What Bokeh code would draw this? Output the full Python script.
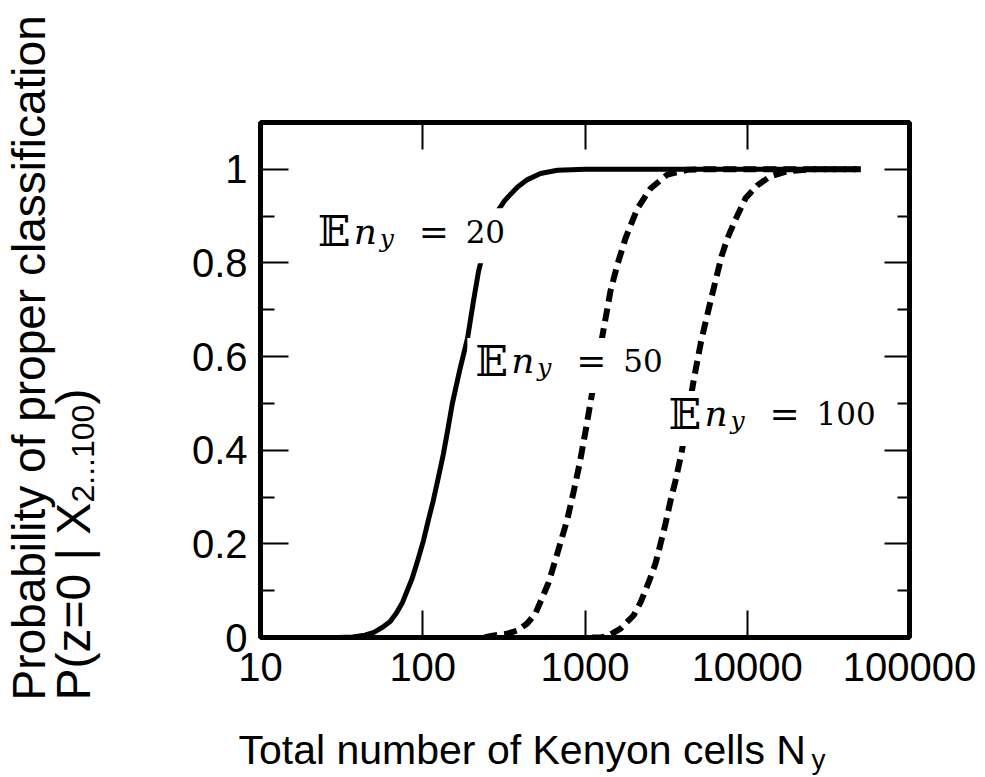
import math

from bokeh.plotting import figure
from bokeh.layouts import row, column
from bokeh.models import Label, Range1d, LogAxis, LinearAxis, FixedTicker
from bokeh.embed import file_html
from bokeh.resources import INLINE

# ---- axis ticks -------------------------------------------------------------
x_ticks = [10, 100, 1000, 10000, 100000]
x_tick_labels = ["10", "100", "1000", "10000", "100000"]
y_ticks = [0, 0.2, 0.4, 0.6, 0.8, 1]
y_tick_labels = ["0", "0.2", "0.4", "0.6", "0.8", "1"]
y_minor_ticks = [0.1, 0.3, 0.5, 0.7, 0.9]

# ---- probability of proper classification vs. number of Kenyon cells --------
# E n_y = 20
n20_cells = [30, 37, 44, 50, 56, 63, 69, 75, 80, 86, 93, 101, 108, 116, 125, 134,
             143, 152, 170, 189, 205, 221, 250, 289, 318, 348, 384, 442, 532,
             676, 1000, 50000]
n20_prob = [0.0, 0.001, 0.005, 0.011, 0.021, 0.034, 0.053, 0.075, 0.099, 0.126,
            0.164, 0.207, 0.249, 0.292, 0.343, 0.392, 0.446, 0.499, 0.575, 0.640,
            0.717, 0.783, 0.856, 0.910, 0.932, 0.947, 0.962, 0.978, 0.991, 0.998,
            1.0, 1.0]

# E n_y = 50
n50_cells = [240, 269, 330, 384, 440, 495, 596, 687, 780, 849, 925, 1007, 1097,
             1200, 1300, 1436, 1585, 1778, 2108, 2535, 3223, 4285, 5156, 50000]
n50_prob = [0.0, 0.004, 0.008, 0.015, 0.030, 0.051, 0.117, 0.188, 0.254, 0.310,
            0.370, 0.440, 0.515, 0.590, 0.657, 0.740, 0.797, 0.853, 0.917, 0.959,
            0.989, 0.999, 1.0, 1.0]

# E n_y = 100
n100_cells = [1100, 1247, 1377, 1656, 1992, 2200, 2463, 2720, 2920, 3134, 3365,
              3611, 3934, 4300, 4667, 5156, 5375, 5770, 6285, 6939, 7557, 8466,
              9753, 11560, 13900, 17700, 24500, 50000]
n100_prob = [0.0, 0.0, 0.003, 0.019, 0.047, 0.075, 0.117, 0.158, 0.200, 0.243,
             0.292, 0.335, 0.394, 0.474, 0.548, 0.627, 0.655, 0.700, 0.753, 0.814,
             0.853, 0.893, 0.938, 0.966, 0.985, 0.996, 1.0, 1.0]

# curve annotations: value of E n_y and where its label sits (left edge, baseline)
curve_values = ["20", "50", "100"]
label_x = [22.5, 211, 3270]
label_y = [0.842, 0.565, 0.452]

# ---- layout -----------------------------------------------------------------
W, H = 985, 777
YTITLE_W = 110          # strip on the left holding the y-axis title
XTITLE_H = 77           # strip at the bottom holding the x-axis title
MAIN_W, MAIN_H = W - YTITLE_W, H - XTITLE_H
LEFT, RIGHT, TOP, BOTTOM = 150, 76, 122, 63
X_RANGE = (10, 100000)
Y_RANGE = (0, 1.1)
px_per_decade = (MAIN_W - LEFT - RIGHT) / (math.log10(X_RANGE[1]) - math.log10(X_RANGE[0]))
px_per_unit = (MAIN_H - TOP - BOTTOM) / (Y_RANGE[1] - Y_RANGE[0])
BASE_LIFT = 12          # label anchors sit this many px above the drawn baseline

SANS = "Liberation Sans"
SERIF = "DejaVu Serif"

p = figure(width=MAIN_W, height=MAIN_H, x_axis_type="log",
           x_range=Range1d(*X_RANGE), y_range=Range1d(*Y_RANGE),
           output_backend="svg", toolbar_location=None, frame_align=False,
           min_border_left=LEFT, min_border_right=RIGHT,
           min_border_top=TOP, min_border_bottom=BOTTOM)
p.grid.visible = False
p.background_fill_color = "white"
p.border_fill_color = "white"
p.outline_line_color = "black"
p.outline_line_width = 5


def style_axis(ax, major, minor, labels):
    ax.axis_line_color = None
    ax.major_tick_in = major
    ax.major_tick_out = 0
    ax.minor_tick_in = minor
    ax.minor_tick_out = 0
    ax.major_tick_line_width = 2
    ax.minor_tick_line_width = 2
    ax.major_tick_line_color = "black"
    ax.minor_tick_line_color = "black" if minor else None
    ax.major_label_text_font = SANS
    ax.major_label_text_font_size = "40px"
    ax.major_label_text_color = "black" if labels else None


xb = p.xaxis[0]
xb.ticker = FixedTicker(ticks=x_ticks, minor_ticks=[])
xb.major_label_overrides = dict(zip(x_ticks, x_tick_labels))
style_axis(xb, 27, 0, True)
xb.major_label_standoff = 15

yl = p.yaxis[0]
yl.ticker = FixedTicker(ticks=y_ticks, minor_ticks=y_minor_ticks)
yl.major_label_overrides = dict(zip(y_ticks, y_tick_labels))
style_axis(yl, 28, 14, True)
yl.major_label_standoff = 13

xt = LogAxis(ticker=FixedTicker(ticks=x_ticks, minor_ticks=[]))
style_axis(xt, 27, 0, False)
p.add_layout(xt, "above")

yr = LinearAxis(ticker=FixedTicker(ticks=y_ticks, minor_ticks=y_minor_ticks))
style_axis(yr, 25, 12, False)
p.add_layout(yr, "right")

# ---- curves -----------------------------------------------------------------
p.line(n20_cells, n20_prob, line_color="black", line_width=5, line_join="round")
p.line(n50_cells, n50_prob, line_color="black", line_width=6, line_dash="13 7",
       line_join="round")
p.line(n100_cells, n100_prob, line_color="black", line_width=6, line_dash="13 7",
       line_join="round")

# white boxes behind the curve labels
box_w = [202 + 20 * (len(v) - 2) for v in curve_values]
box_x = [lx * 10 ** ((w / 2 - 8) / px_per_decade) for lx, w in zip(label_x, box_w)]
box_y = [ly + 7.5 / px_per_unit for ly in label_y]
p.rect(x=box_x, y=box_y, width=box_w, height=55, width_units="screen",
       height_units="screen", fill_color="white", line_color=None)

# "E n_y = value" labels, set piece by piece
for val, lx, ly in zip(curve_values, label_x, label_y):
    pieces = [("\U0001D53C", 0, 0, "normal", "43px"),
              ("n", 36, 0, "italic", "36px"),
              ("y", 62, -7, "italic", "25px"),
              ("=", 101, 0, "normal", "36px"),
              (val, 148, 0, "normal", "31px")]
    for txt, dx, dy, style, size in pieces:
        p.add_layout(Label(x=lx, y=ly, x_offset=dx, y_offset=dy + BASE_LIFT, text=txt,
                           text_font=SERIF, text_font_style=style,
                           text_font_size=size, text_color="black",
                           text_baseline="alphabetic", text_align="left"))


# ---- axis titles, each in its own strip (coordinates = pixels from top-left) --
def title_strip(w, h):
    f = figure(width=w, height=h, x_range=Range1d(0, w), y_range=Range1d(h, 0),
               x_axis_type=None, y_axis_type=None, output_backend="svg",
               toolbar_location=None, min_border=0, frame_align=False)
    f.grid.visible = False
    f.outline_line_color = None
    f.background_fill_color = "white"
    f.border_fill_color = "white"
    return f


ytitle = title_strip(YTITLE_W, H)
for txt, x, y, size in [("Probability of proper classification", 28, 700, "46px"),
                        ("P(z=0 | X", 73, 700, "48px"),
                        ("2...100", 82, 502, "32px"),
                        (")", 73, 404, "48px")]:
    ytitle.add_layout(Label(x=x, y=y, angle=math.pi / 2, text=txt, text_font=SANS,
                            text_font_size=size, text_color="black",
                            text_baseline="alphabetic", text_align="left"))

xtitle = title_strip(MAIN_W, XTITLE_H)
for txt, x, y, size in [("Total number of Kenyon cells N", 128, 49, "41px"),
                        ("y", 701, 59, "28px")]:
    xtitle.add_layout(Label(x=x, y=y, text=txt, text_font=SANS,
                            text_font_size=size, text_color="black",
                            text_baseline="alphabetic", text_align="left"))

layout = row(ytitle, column(p, xtitle))
open("out.html", "w").write(file_html(layout, INLINE))
